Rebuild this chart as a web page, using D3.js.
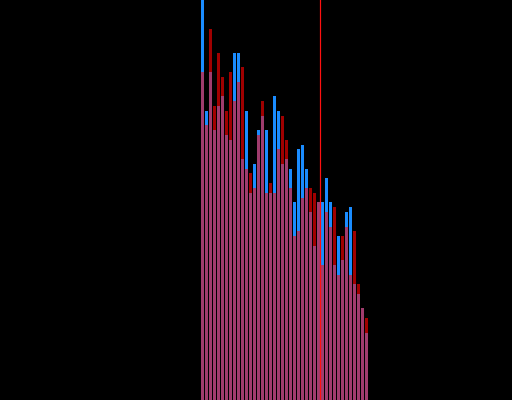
<!DOCTYPE html>
<html>
<head>
<meta charset="utf-8">
<script src="https://cdn.jsdelivr.net/npm/d3@7"></script>
<style>
  html, body { margin: 0; padding: 0; background: #000; }
  svg { display: block; }
</style>
</head>
<body>
<div id="chart"></div>
<script>

// counts per bin
var blueCounts = [88, 60, 68, 56, 61, 63, 55, 54, 72, 72, 50, 60, 43, 49, 56, 59, 56, 43, 63, 60, 49,
                  50, 48, 41, 52, 53, 48, 39, 32, 41, 41, 46, 41, 28, 34, 29, 39, 40, 24, 22, 19, 14]
var redCounts  = [68, 57, 77, 61, 72, 67, 60, 68, 62, 66, 69, 48, 47, 44, 55, 62, 43, 45, 43, 52, 59,
                  54, 44, 34, 35, 42, 44, 44, 43, 41, 28, 39, 36, 40, 26, 34, 36, 26, 35, 24, 19, 17]
var bins = d3.range(blueCounts.length)
var threshold = 29.75

var width = 512, height = 400

var svg = d3.select("#chart").append("svg")
    .attr("width", width)
    .attr("height", height)

svg.append("rect")
    .attr("width", width)
    .attr("height", height)
    .attr("fill", "#000")

var x = d3.scaleLinear()
    .domain([0, bins.length])
    .range([201, 369])

var y = d3.scaleLinear()
    .domain([0, 83])
    .range([height, 0])

var barW = x(1) - x(0) - 1

function drawBars(cls, values, colour) {
    svg.append("g").attr("class", cls)
        .selectAll("rect")
        .data(bins)
        .join("rect")
        .attr("x", d => Math.round(x(d)))
        .attr("y", d => Math.round(y(values(d))))
        .attr("width", barW)
        .attr("height", d => height - Math.round(y(values(d))))
        .attr("fill", colour)
}

drawBars("blue", d => blueCounts[d], "#1a8cff")
drawBars("red", d => redCounts[d], "#a00000")
drawBars("overlap", d => Math.min(blueCounts[d], redCounts[d]), "#a03c6e")

// threshold line
var lx = Math.round(x(threshold)) + 0.5
svg.append("line")
    .attr("x1", lx)
    .attr("x2", lx)
    .attr("y1", 0)
    .attr("y2", height)
    .attr("stroke", "#ff1010")
    .attr("stroke-width", 1.2)

</script>
</body>
</html>
